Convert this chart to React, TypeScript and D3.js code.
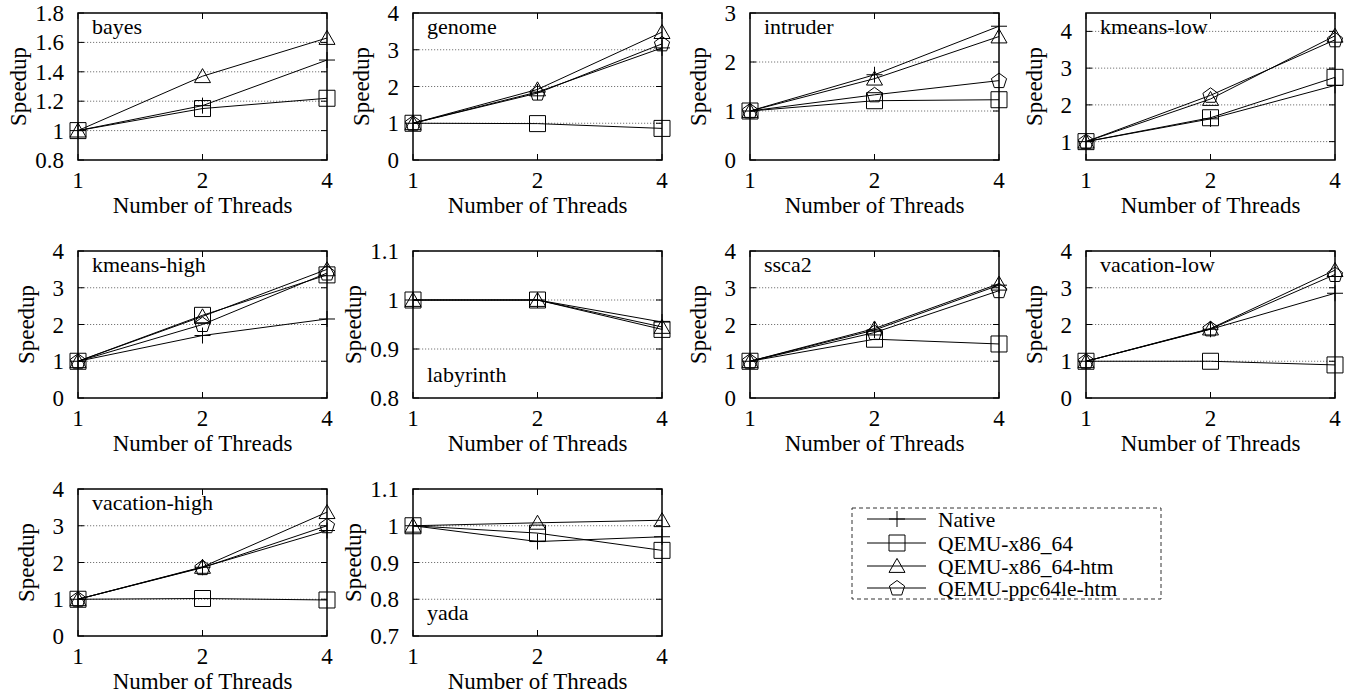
import React from 'react';
import * as d3 from 'd3';

// x values (thread counts) and the panels
const threads = [1, 2, 4];
const benchmarks = ['bayes', 'genome', 'intruder', 'kmeans-low', 'kmeans-high', 'labyrinth', 'ssca2', 'vacation-low', 'vacation-high', 'yada'];
const seriesNames = ['Native', 'QEMU-x86_64', 'QEMU-x86_64-htm', 'QEMU-ppc64le-htm'];

// speedup per benchmark at 1, 2, 4 threads (null = not run)
const native = [[1, 1.17, 1.48], [1, 1.85, 3.05], [1, 1.74, 2.73], [1, 1.62, 2.53], [1, 1.7, 2.15], [1, 1.0, 0.955], [1, 1.85, 3.07], [1, 1.87, 2.85], [1, 1.87, 2.87], [1, 0.957, 0.97]];
const qemuX86 = [[1, 1.15, 1.22], [1, 0.99, 0.86], [1, 1.21, 1.23], [1, 1.65, 2.75], [1, 2.25, 3.35], [1, 1.0, 0.94], [1, 1.6, 1.47], [1, 1.0, 0.9], [1, 1.02, 0.98], [1, 0.98, 0.933]];
const qemuX86Htm = [[1, 1.37, 1.63], [1, 1.92, 3.48], [1, 1.66, 2.52], [1, 2.16, 3.88], [1, 2.22, 3.5], [1, 1.0, 0.945], [1, 1.89, 3.11], [1, 1.89, 3.48], [1, 1.88, 3.37], [1, 1.008, 1.015]];
const qemuPpcHtm = [null, [1, 1.82, 3.16], [1, 1.33, 1.62], [1, 2.26, 3.77], [1, 2.0, 3.4], null, [1, 1.78, 2.92], [1, 1.88, 3.36], [1, 1.86, 3.0], null];

// y axis domain and ticks per benchmark
const yDomains = [[0.8, 1.8], [0, 4], [0, 3], [0.5, 4.5], [0, 4], [0.8, 1.1], [0, 4], [0, 4], [0, 4], [0.7, 1.1]];
const yTicks = [
  [0.8, 1, 1.2, 1.4, 1.6, 1.8],
  [0, 1, 2, 3, 4],
  [0, 1, 2, 3],
  [1, 2, 3, 4],
  [0, 1, 2, 3, 4],
  [0.8, 0.9, 1, 1.1],
  [0, 1, 2, 3, 4],
  [0, 1, 2, 3, 4],
  [0, 1, 2, 3, 4],
  [0.7, 0.8, 0.9, 1, 1.1],
];
const labelAtBottom = ['labyrinth', 'yada'];

const allSeries = [native, qemuX86, qemuX86Htm, qemuPpcHtm];
const markers = ['plus', 'square', 'triangle', 'pentagon'];

// layout
const colLeft = [78, 413, 750, 1086];
const rowTop = [13, 251, 489];
const plotW = 249;
const plotH = 147;
const font = "'Liberation Serif', 'Times New Roman', serif";
const fs = 23;

const Marker = ({ type, x, y }: { type: string; x: number; y: number }) => {
  const s = 8;
  let d = '';
  if (type === 'plus') {
    d = `M${x - s},${y}H${x + s}M${x},${y - s}V${y + s}`;
  } else if (type === 'square') {
    d = `M${x - s},${y - s}h${2 * s}v${2 * s}h${-2 * s}Z`;
  } else if (type === 'triangle') {
    d = `M${x},${y - s * 0.95}L${x + s},${y + s * 0.8}L${x - s},${y + s * 0.8}Z`;
  } else {
    const pts = d3.range(5).map(i => {
      const a = -Math.PI / 2 + (i * 2 * Math.PI) / 5;
      return [x + s * Math.cos(a), y + 0.5 + s * Math.sin(a)];
    });
    d = 'M' + pts.map(p => p.join(',')).join('L') + 'Z';
  }
  return <path d={d} fill="none" stroke="#000" strokeWidth={1} />;
};

const Panel = ({ idx }: { idx: number }) => {
  const name = benchmarks[idx];
  const left = colLeft[idx % 4];
  const top = rowTop[Math.floor(idx / 4)];
  const x = d3.scaleLog().base(2).domain([1, 4]).range([0, plotW]);
  const y = d3.scaleLinear().domain(yDomains[idx]).range([plotH, 0]);
  const fmt = d3.format('~g');
  const ticks = yTicks[idx];
  const decimal = ticks.some(t => !Number.isInteger(t));
  const line = d3.line<[number, number]>().x(d => x(d[0])).y(d => y(d[1]));
  const dom = yDomains[idx];
  const bottomLabel = labelAtBottom.includes(name);

  return (
    <g transform={`translate(${left},${top})`}>
      {ticks.filter(t => t > dom[0] + 1e-9 && t < dom[1] - 1e-9).map(t => (
        <line key={'g' + t} x1={0} x2={plotW} y1={y(t)} y2={y(t)} stroke="#777" strokeWidth={1} strokeDasharray="1.2,1.8" />
      ))}
      {ticks.map(t => (
        <g key={'t' + t}>
          <line x1={0} x2={6} y1={y(t)} y2={y(t)} stroke="#000" />
          <line x1={plotW - 6} x2={plotW} y1={y(t)} y2={y(t)} stroke="#000" />
          <text x={-14} y={y(t)} dy="0.35em" textAnchor="end" fontFamily={font} fontSize={fs}>{fmt(t)}</text>
        </g>
      ))}
      {threads.map(t => (
        <g key={'x' + t}>
          <line x1={x(t)} x2={x(t)} y1={plotH} y2={plotH - 6} stroke="#000" />
          <line x1={x(t)} x2={x(t)} y1={0} y2={6} stroke="#000" />
          <text x={x(t)} y={plotH + 28} textAnchor="middle" fontFamily={font} fontSize={fs}>{t}</text>
        </g>
      ))}
      <text x={plotW / 2} y={plotH + 53} textAnchor="middle" fontFamily={font} fontSize={fs}>Number of Threads</text>
      <text transform={`translate(${decimal ? -60 : -52},${plotH / 2}) rotate(-90)`} textAnchor="middle" dy="0.35em" fontFamily={font} fontSize={fs}>Speedup</text>
      <text x={14} y={bottomLabel ? plotH - 16 : 21} fontFamily={font} fontSize={22}>{name}</text>
      {allSeries.map((s, si) => {
        const vals = s[idx];
        if (!vals) return null;
        const pts = threads.map((t, i) => [t, vals[i]] as [number, number]);
        return (
          <g key={seriesNames[si]}>
            <path d={line(pts) || ''} fill="none" stroke="#000" strokeWidth={1} />
            {pts.map((p, i) => <Marker key={i} type={markers[si]} x={x(p[0])} y={y(p[1])} />)}
          </g>
        );
      })}
      <rect x={0} y={0} width={plotW} height={plotH} fill="none" stroke="#000" strokeWidth={1.5} />
    </g>
  );
};

const Legend = () => {
  const lx = 852;
  const ly = 508;
  const rowY = [519, 543, 566, 588];
  return (
    <g>
      <rect x={lx} y={ly} width={309} height={91} fill="none" stroke="#333" strokeWidth={1} strokeDasharray="4,3" />
      {seriesNames.map((n, i) => (
        <g key={n}>
          <line x1={867} x2={926} y1={rowY[i]} y2={rowY[i]} stroke="#000" />
          <Marker type={markers[i]} x={897} y={rowY[i]} />
          <text x={938} y={rowY[i]} dy="0.35em" fontFamily={font} fontSize={21.5}>{n}</text>
        </g>
      ))}
    </g>
  );
};

const App = () => (
  <svg width={1347} height={698} style={{ position: 'absolute', left: 0, top: 0, background: '#fff' }}>
    {benchmarks.map((b, i) => <Panel key={b} idx={i} />)}
    <Legend />
  </svg>
);

export default App;
